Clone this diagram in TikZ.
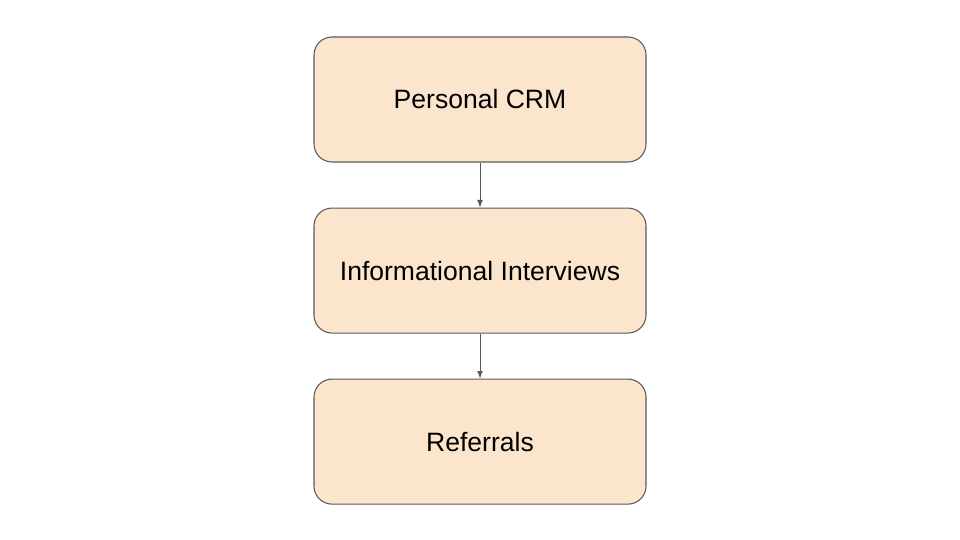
\documentclass[tikz,border=0pt]{standalone}
\usepackage{fontspec}
\setmainfont{Liberation Sans}
\usepackage{tikz}
\usetikzlibrary{arrows,positioning,shapes}
\usepackage{xcolor}
\definecolor{peach}{HTML}{FCE5CD}
\definecolor{edgegray}{HTML}{595959}

\begin{document}
\begin{tikzpicture}[node distance=0.9cm]
	\tikzstyle{rect_step}
	  =[draw=edgegray, fill=peach, rectangle, rounded corners=0.36cm, line width=0.6pt,
	    minimum width=6.64cm, minimum height=2.5cm, inner sep=0pt, font=\fontsize{15.1}{17}\selectfont]
	\tikzstyle{link}
	  =[-latex, draw=edgegray, line width=0.5pt]

	\useasboundingbox (0,0) rectangle (19.2,-10.8);

	\node[rect_step] (crm)
	  at (9.6,-1.99) {Personal CRM};
	\node[rect_step] (interviews)
	  [below=0.9cm of crm] {Informational Interviews};
	\node[rect_step] (referrals)
	  [below=0.9cm of interviews] {Referrals};

	\draw[link] (crm)--(interviews);
	\draw[link] (interviews)--(referrals);
\end{tikzpicture}
\end{document}
